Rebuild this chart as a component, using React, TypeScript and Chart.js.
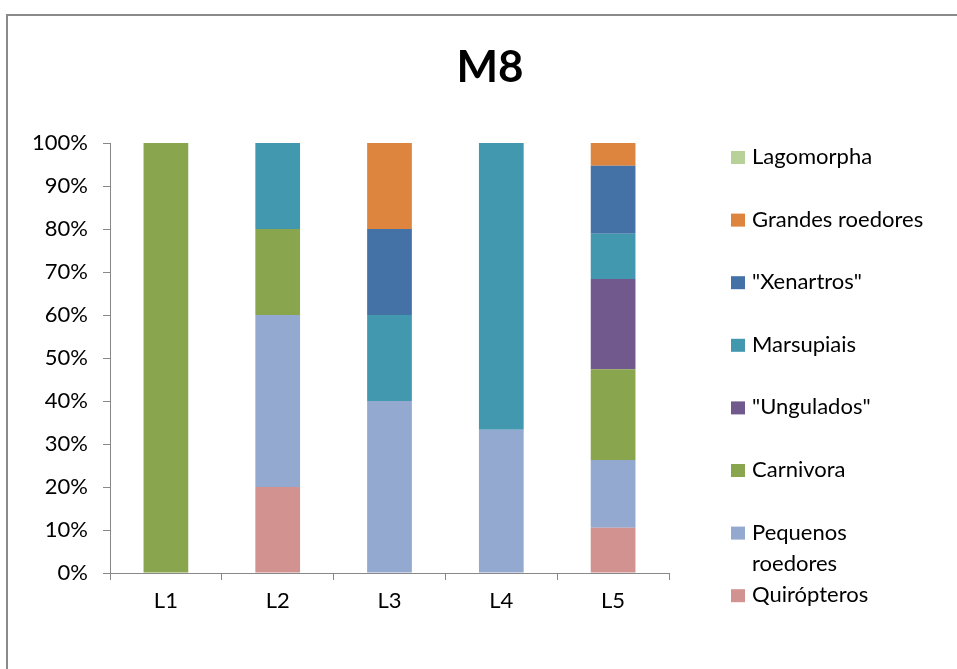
import React, { useEffect, useRef } from "react";
import { Chart, registerables } from "chart.js";

Chart.register(...registerables);

const title = "M8";
const categories = ["L1", "L2", "L3", "L4", "L5"];
const yTicks = [0, 10, 20, 30, 40, 50, 60, 70, 80, 90, 100];

// values in percent (100% stacked), bottom to top
const quiropteros = [0, 20, 0, 0, 10.5];
const pequenosRoedores = [0, 40, 40, 33.3, 15.8];
const carnivora = [100, 20, 0, 0, 21.1];
const ungulados = [0, 0, 0, 0, 21.0];
const marsupiais = [0, 20, 20, 66.7, 10.5];
const xenartros = [0, 0, 20, 0, 15.8];
const grandesRoedores = [0, 0, 20, 0, 5.3];
const lagomorpha = [0, 0, 0, 0, 0];

const seriesNames = [
  "Quirópteros",
  "Pequenos roedores",
  "Carnivora",
  '"Ungulados"',
  "Marsupiais",
  '"Xenartros"',
  "Grandes roedores",
  "Lagomorpha",
];
const seriesLegendLines = [
  ["Quirópteros"],
  ["Pequenos", "roedores"],
  ["Carnivora"],
  ['"Ungulados"'],
  ["Marsupiais"],
  ['"Xenartros"'],
  ["Grandes roedores"],
  ["Lagomorpha"],
];
const seriesValues = [
  quiropteros,
  pequenosRoedores,
  carnivora,
  ungulados,
  marsupiais,
  xenartros,
  grandesRoedores,
  lagomorpha,
];
const seriesColors = [
  "#D19290",
  "#94A9D0",
  "#89A54E",
  "#71598E",
  "#4298AF",
  "#4471A6",
  "#DD843F",
  "#B8D198",
];

const FONT = "Lato, 'Open Sans', sans-serif";

const decorPlugin = {
  id: "decor",
  beforeDraw(chart: any) {
    const ctx = chart.ctx;
    ctx.save();
    ctx.fillStyle = "#ffffff";
    ctx.fillRect(0, 0, chart.width, chart.height);
    ctx.strokeStyle = "#8a8a8a";
    ctx.lineWidth = 2;
    ctx.beginPath();
    ctx.moveTo(7, chart.height);
    ctx.lineTo(7, 15);
    ctx.lineTo(chart.width, 15);
    ctx.stroke();
    ctx.restore();
  },
  afterDraw(chart: any) {
    const ctx = chart.ctx;
    ctx.save();
    // title
    ctx.fillStyle = "#000";
    ctx.font = `bold 44px ${FONT}`;
    ctx.textAlign = "center";
    ctx.textBaseline = "alphabetic";
    ctx.fillText(title, 490, 82);
    // legend (reverse order)
    ctx.font = `22px ${FONT}`;
    ctx.textAlign = "left";
    ctx.textBaseline = "middle";
    const n = chart.data.datasets.length;
    const startY = 157;
    const step = 62.6;
    const lineH = 31;
    for (let k = 0; k < n; k++) {
      const i = n - 1 - k;
      const ds = chart.data.datasets[i];
      const y = startY + k * step;
      ctx.fillStyle = ds.backgroundColor;
      ctx.fillRect(731, y - 6, 14, 13);
      ctx.fillStyle = "#000";
      const lines = seriesLegendLines[i];
      lines.forEach((t: string, j: number) => {
        ctx.fillText(t, 752, y + j * lineH);
      });
    }
    ctx.restore();
  },
};

export default function App() {
  const ref = useRef<HTMLCanvasElement | null>(null);
  useEffect(() => {
    if (!ref.current) return;
    const chart = new Chart(ref.current, {
      type: "bar",
      data: {
        labels: categories,
        datasets: seriesNames.map((name, i) => ({
          label: name,
          data: seriesValues[i],
          backgroundColor: seriesColors[i],
          borderWidth: 0,
          barPercentage: 0.4,
          categoryPercentage: 1.0,
        })),
      },
      options: {
        responsive: false,
        animation: false,
        devicePixelRatio: 1,
        layout: { padding: { left: 0, top: 143, right: 288, bottom: 0 } },
        plugins: {
          legend: { display: false },
          title: { display: false },
          tooltip: { enabled: false },
        },
        scales: {
          x: {
            stacked: true,
            grid: {
              offset: true,
              drawOnChartArea: false,
              drawTicks: true,
              tickLength: 7,
              color: "#888888",
            },
            border: { color: "#888888", width: 1 },
            ticks: {
              color: "#000",
              font: { family: FONT, size: 22 },
              padding: 8,
              maxRotation: 0,
            },
            afterFit(scale: any) {
              scale.height = 96;
              scale.paddingLeft = 0;
              scale.paddingRight = 0;
            },
          },
          y: {
            stacked: true,
            min: 0,
            max: 100,
            afterBuildTicks(scale: any) {
              scale.ticks = yTicks.map((v) => ({ value: v }));
            },
            grid: {
              drawOnChartArea: false,
              drawTicks: true,
              tickLength: 7,
              color: "#888888",
            },
            border: { color: "#888888", width: 1 },
            ticks: {
              color: "#000",
              font: { family: FONT, size: 22 },
              padding: 15,
              callback: (v: any) => `${v}%`,
            },
            afterFit(scale: any) {
              scale.width = 110;
              scale.paddingTop = 0;
              scale.paddingBottom = 0;
            },
          },
        },
      },
      plugins: [decorPlugin],
    });
    return () => chart.destroy();
  }, []);
  return (
    <div style={{ position: "absolute", left: 0, top: 0, width: 957, height: 669 }}>
      <canvas ref={ref} width={957} height={669} style={{ display: "block" }} />
    </div>
  );
}
